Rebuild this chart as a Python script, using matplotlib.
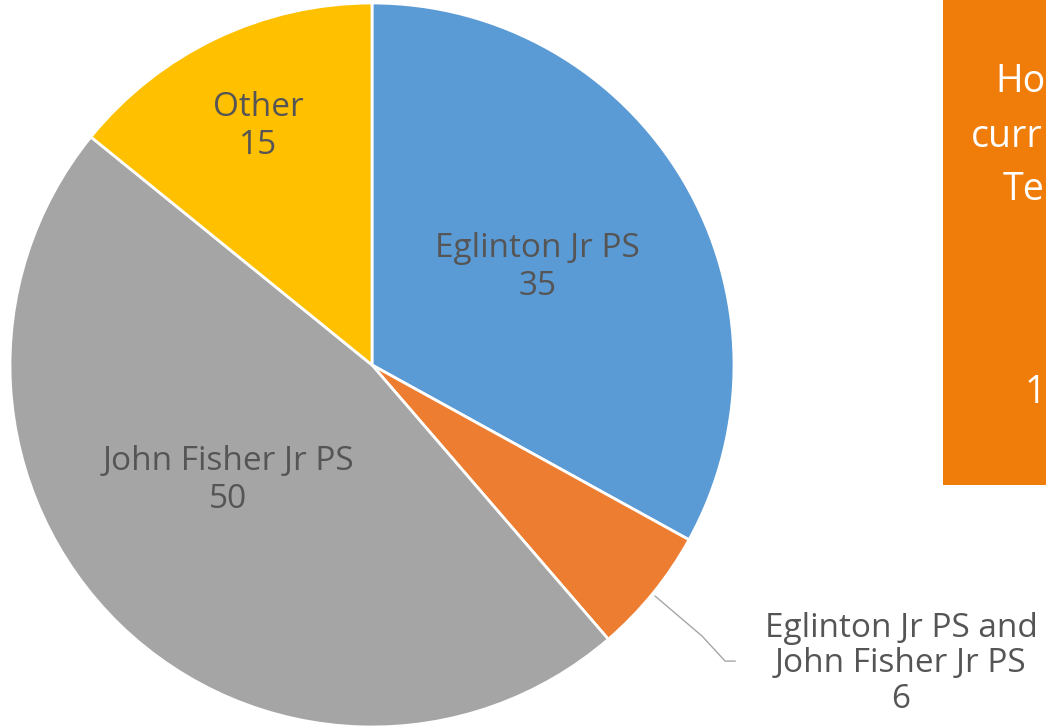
import matplotlib
matplotlib.use('Agg')
import matplotlib.pyplot as plt
import numpy as np
from matplotlib.patches import Rectangle

plt.rcParams['font.family'] = ['Open Sans', 'DejaVu Sans']

schools = ['Eglinton Jr PS', 'Eglinton Jr PS and\nJohn Fisher Jr PS', 'John Fisher Jr PS', 'Other']
counts = [35, 6, 50, 15]
colors = ['#5B9BD5', '#ED7D31', '#A5A5A5', '#FFC000']

W, H = 1046, 727
fig = plt.figure(figsize=(W / 100, H / 100), dpi=100)
ax = fig.add_axes([0, 0, 1, 1])

cx, cy, R = 372, H - 365, 362
wedges, _ = ax.pie(counts, colors=colors, startangle=90, counterclock=False,
                   center=(cx, cy), radius=R, frame=True,
                   wedgeprops=dict(edgecolor='white', linewidth=2))
ax.set_xlim(0, W)
ax.set_ylim(0, H)
ax.axis('off')

text_color = '#555555'
fs = 24
# (radius fraction, angle shift in degrees) for the inside labels
label_pos = [(0.53, 0), None, (0.51, -7), (0.73, 0)]
for w, name, n, p in zip(wedges, schools, counts, label_pos):
    if p is None:
        continue
    d, shift = p
    ang = np.deg2rad((w.theta1 + w.theta2) / 2 + shift)
    ax.text(cx + d * R * np.cos(ang), cy + d * R * np.sin(ang), f'{name}\n{n}',
            ha='center', va='center', fontsize=fs, color=text_color,
            linespacing=1.2)

# small slice: label outside with leader line
w = wedges[1]
ang = np.deg2rad((w.theta1 + w.theta2) / 2)
x0, y0 = cx + R * np.cos(ang), cy + R * np.sin(ang)
ax.plot([x0 + 2, x0 + 49, x0 + 72, x0 + 82],
        [y0 - 3, y0 - 43, y0 - 68, y0 - 68],
        color='#A6A6A6', linewidth=1)
ax.text(901, H - 664, f'{schools[1]}\n{counts[1]}', ha='center', va='center',
        fontsize=fs, color=text_color, linespacing=1.1)

# orange panel from the slide, cropped at the right edge
ax.add_patch(Rectangle((943, H - 485), 200, 485, facecolor='#F07C09',
                       edgecolor='none'))
box_lines = [('Ho', 995, 82), ('curr', 971, 137), ('Te', 1003, 190), ('1', 1025, 393)]
for txt, x, y in box_lines:
    ax.text(x, H - y, txt, ha='left', va='center', fontsize=27, color='white')

fig.savefig('out.png', dpi=100)
